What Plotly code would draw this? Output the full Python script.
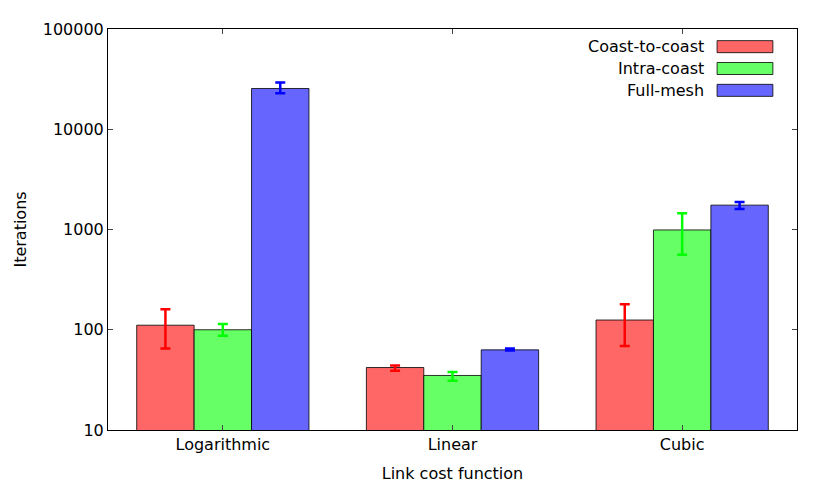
import plotly.graph_objects as go

categories = ["Logarithmic", "Linear", "Cubic"]
series = ["Coast-to-coast", "Intra-coast", "Full-mesh"]
values = [
    [111, 42, 125],
    [100, 35, 990],
    [25500, 63, 1750],
]
err_hi = [
    [160, 44, 180],
    [114, 38, 1450],
    [29300, 65, 1880],
]
err_lo = [
    [65, 39, 69],
    [87, 31, 560],
    [22800, 62, 1600],
]
fills = ["#ff6666", "#66ff66", "#6666ff"]
err_cols = ["#ff0000", "#00ff00", "#0000ff"]

fig = go.Figure()
for i, name in enumerate(series):
    fig.add_trace(go.Bar(
        x=categories, y=values[i], name=name,
        marker=dict(color=fills[i], line=dict(color="black", width=0.8)),
        error_y=dict(type="data", symmetric=False,
                     array=[h - v for h, v in zip(err_hi[i], values[i])],
                     arrayminus=[v - l for l, v in zip(err_lo[i], values[i])],
                     color=err_cols[i], thickness=2.5, width=5),
        showlegend=False,
    ))

# gnuplot-style key: label on the left, swatch on the right
for i, name in enumerate(series):
    yc = 0.956 - i * 0.0545
    fig.add_shape(type="rect", xref="paper", yref="paper",
                  x0=0.884, x1=0.965, y0=yc - 0.015, y1=yc + 0.015,
                  fillcolor=fills[i], line=dict(color="black", width=0.8))
    fig.add_annotation(xref="paper", yref="paper", x=0.868, y=yc,
                       text=name, showarrow=False, xanchor="right",
                       yanchor="middle", font=dict(size=16))

axis = dict(showline=True, linecolor="black", linewidth=1, mirror="ticks",
            ticks="inside", showgrid=False, zeroline=False,
            tickfont=dict(size=16))
fig.update_layout(
    width=830, height=498, barmode="group", bargap=0.25, bargroupgap=0,
    plot_bgcolor="white", paper_bgcolor="white",
    font=dict(family="DejaVu Sans", size=16, color="black"),
    margin=dict(l=99, r=41, t=17, b=76),
    xaxis=dict(title=dict(text="Link cost function", standoff=14,
                          font=dict(size=16)), **axis),
    yaxis=dict(title=dict(text="Iterations", standoff=12,
                          font=dict(size=16)), type="log",
               range=[1, 5], tickvals=[10, 100, 1000, 10000, 100000],
               ticktext=["10", "100", "1000", "10000", "100000"], **axis),
)
fig.write_html("out.html")
